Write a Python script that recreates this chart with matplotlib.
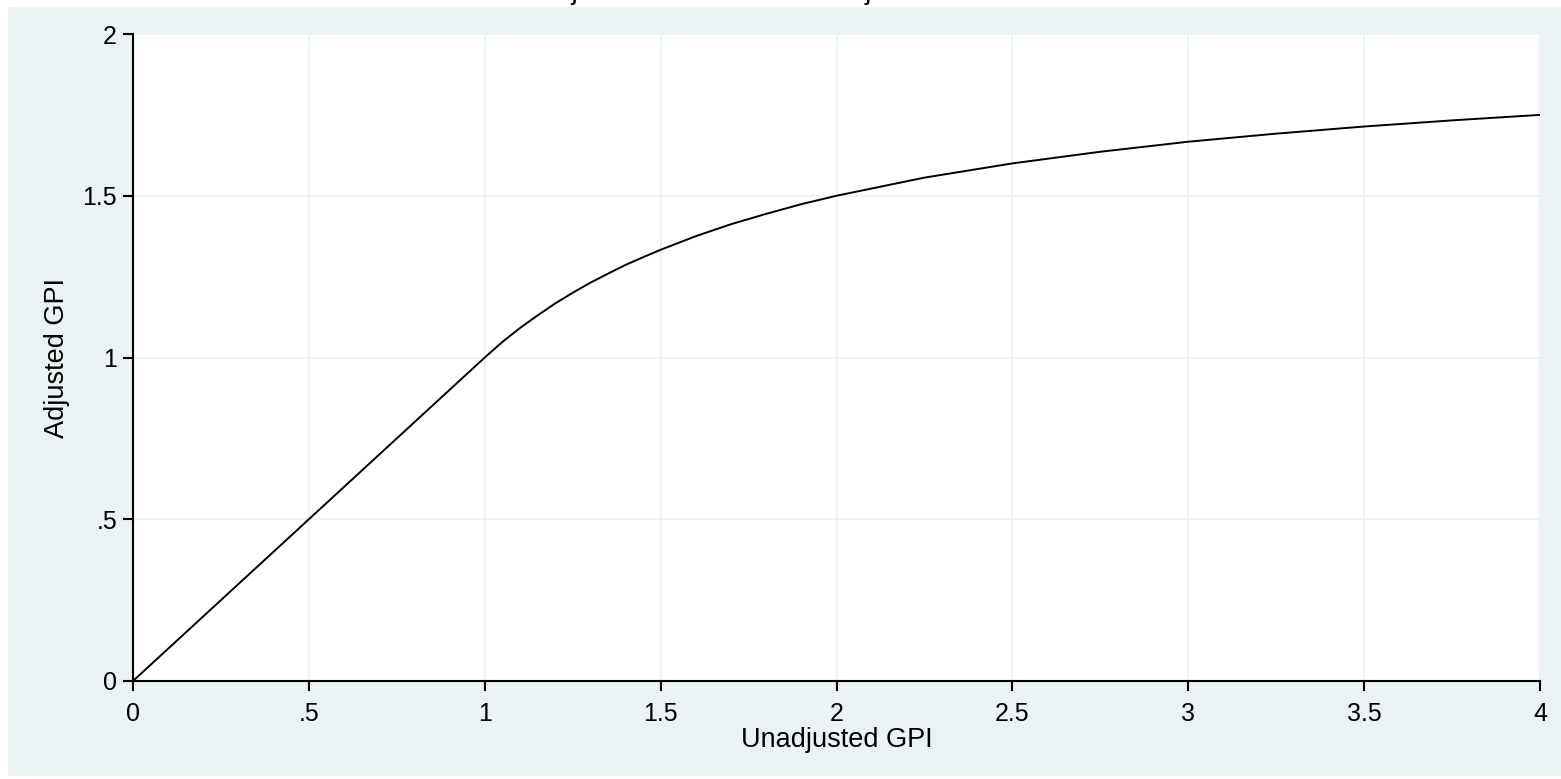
import matplotlib
matplotlib.use("Agg")
import matplotlib.pyplot as plt
from matplotlib.patches import Rectangle

plt.rcParams['font.family'] = ['Liberation Sans', 'DejaVu Sans']

# values
unadjusted = [0, 0.25, 0.5, 0.75, 1.0, 1.05, 1.1, 1.15, 1.2, 1.25, 1.3, 1.35, 1.4, 1.45,
              1.5, 1.6, 1.7, 1.8, 1.9, 2.0, 2.25, 2.5, 2.75, 3.0, 3.25, 3.5, 3.75, 4.0]
adjusted = [0, 0.25, 0.5, 0.75, 1.0, 1.048, 1.091, 1.13, 1.167, 1.2, 1.231, 1.259, 1.286, 1.31,
            1.333, 1.375, 1.412, 1.444, 1.474, 1.5, 1.556, 1.6, 1.636, 1.667, 1.692, 1.714, 1.733, 1.75]

xticks = [0, 0.5, 1, 1.5, 2, 2.5, 3, 3.5, 4]
xticklabels = ["0", ".5", "1", "1.5", "2", "2.5", "3", "3.5", "4"]
yticks = [0, 0.5, 1, 1.5, 2]
yticklabels = ["0", ".5", "1", "1.5", "2"]

title = "Adjusted GPI versus unadjusted GPI"
bg = "#EAF2F3"

W, H = 1561, 779
fig = plt.figure(figsize=(W / 100, H / 100), dpi=100)
fig.patch.set_facecolor("white")
fig.patches.append(Rectangle((8 / W, 3 / H), 1 - 8 / W, 1 - 10 / H,
                             transform=fig.transFigure, facecolor=bg,
                             edgecolor="none", zorder=-10))

ax = fig.add_axes([133 / W, 1 - 681 / H, (1540 - 133) / W, (681 - 34) / H])
ax.set_facecolor("white")
ax.plot(unadjusted, adjusted, color="black", lw=1.4, zorder=3)

ax.set_xlim(0, 4)
ax.set_ylim(0, 2)
ax.set_xticks(xticks)
ax.set_xticklabels(xticklabels)
ax.set_yticks(yticks)
ax.set_yticklabels(yticklabels)
ax.grid(True, color=bg, lw=1.2)
ax.set_axisbelow(True)

for s in ["top", "right"]:
    ax.spines[s].set_visible(False)
for s in ["left", "bottom"]:
    ax.spines[s].set_linewidth(1.5)
    ax.spines[s].set_color("black")
ax.tick_params(direction="out", length=7.5, width=1.5, labelsize=18, pad=4)
ax.tick_params(axis="x", pad=7.5)

ax.set_xlabel("Unadjusted GPI", fontsize=19.5, labelpad=1)
ax.set_ylabel("Adjusted GPI", fontsize=19.5, labelpad=9)

# title sits mostly above the frame, as in the source image
fig.text(0.491, 1 + 0.5 / H, title, ha="center", va="baseline", fontsize=20.3)

fig.savefig("out.png", dpi=100, facecolor=fig.get_facecolor())
